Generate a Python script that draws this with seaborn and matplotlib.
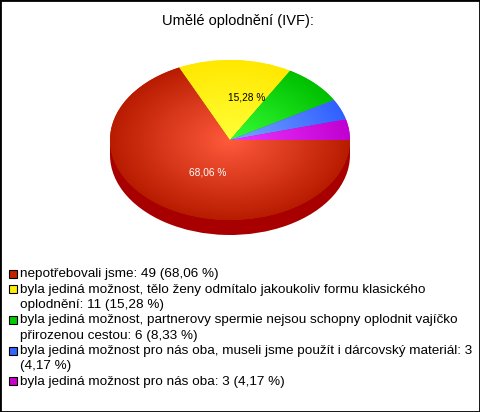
import matplotlib.pyplot as plt
import numpy as np
import seaborn as sns
from matplotlib.colors import LinearSegmentedColormap
from matplotlib.patches import Rectangle

title = "Umělé oplodnění (IVF):"
categories = [
    "nepotřebovali jsme",
    "byla jediná možnost, tělo ženy odmítalo jakoukoliv formu klasického\noplodnění",
    "byla jediná možnost, partnerovy spermie nejsou schopny oplodnit vajíčko\npřirozenou cestou",
    "byla jediná možnost pro nás oba, museli jsme použít i dárcovský materiál",
    "byla jediná možnost pro nás oba",
]
values = [49, 11, 6, 3, 3]
legend_colors = ["#c42200", "#ffee00", "#00cc00", "#3366ff", "#cc00cc"]
center_colors = ["#ff5a3c", "#ffff38", "#36ff36", "#7aa6ff", "#f036ff"]
edge_colors = ["#b81c00", "#ffe800", "#00c000", "#3060ff", "#c000d0"]
side_color = "#a80000"

W, H = 480, 412
CX, CY, RX, RY, DEPTH = 230, 140, 120, 80, 15

sns.set_theme(style="white")
plt.rcParams["font.family"] = ["Liberation Sans", "DejaVu Sans"]


def pct_text(v):
    return f"{v / sum(values) * 100:.2f}".replace(".", ",") + " %"


fig = plt.figure(figsize=(W / 100, H / 100), dpi=100, facecolor="white")
fig.add_artist(Rectangle((0, 0), 1, 1, transform=fig.transFigure, fill=False,
                         edgecolor="black", linewidth=2))

# axes box is the ellipse's bounding box, so the unit pie gets squashed
ax = fig.add_axes([(CX - RX) / W, 1 - (CY + RY) / H, 2 * RX / W, 2 * RY / H])
depth = DEPTH / RY

# side of the disc
ax.pie(values, colors=[side_color] * len(values), center=(0, -depth), radius=1,
       startangle=0, counterclock=False, frame=True, wedgeprops={"linewidth": 0})
ax.add_patch(Rectangle((-1, -depth), 2, depth, facecolor=side_color, linewidth=0))

wedges, _ = ax.pie(values, colors=legend_colors, radius=1, startangle=0,
                   counterclock=False, frame=True, wedgeprops={"linewidth": 0})

# radial shading for every slice
xx, yy = np.meshgrid(np.linspace(-1, 1, 500), np.linspace(-1, 1, 500))
rr = np.clip(np.hypot(xx, yy), 0, 1)
for wedge, c0, c1 in zip(wedges, center_colors, edge_colors):
    cmap = LinearSegmentedColormap.from_list("shade", [c0, c1])
    im = ax.imshow(rr, cmap=cmap, vmin=0, vmax=1, extent=(-1, 1, -1, 1),
                   origin="lower", interpolation="bilinear", aspect="auto", zorder=2)
    im.set_clip_path(wedge)

ax.set_xlim(-1, 1)
ax.set_ylim(-1, 1)
ax.set_aspect("auto")
ax.axis("off")

fig.text(238 / W, 1 - 21 / H, title, ha="center", va="center", fontsize=10.5, color="black")
fig.text(208 / W, 1 - 173 / H, pct_text(values[0]), ha="center", va="center",
         fontsize=7.3, color="white")
fig.text(247 / W, 1 - 98 / H, pct_text(values[1]), ha="center", va="center",
         fontsize=7.3, color="black")

labels = [f"{c}: {v} ({pct_text(v)})" for c, v in zip(categories, values)]
# this one wraps just before the percentage
labels[3] = f"{categories[3]}: {values[3]}\n({pct_text(values[3])})"

# legend drawn by hand: the swatch sits on the first line of a wrapped entry
y = 274.0
for label, color in zip(labels, legend_colors):
    fig.add_artist(Rectangle((9 / W, 1 - (y + 4) / H), 8 / W, 8 / H, transform=fig.transFigure,
                             facecolor=color, edgecolor="black", linewidth=0.8))
    for line in label.split("\n"):
        fig.text(20 / W, 1 - (y + 0.5) / H, line, ha="left", va="center", fontsize=9.7, color="black")
        y += 15.3

fig.savefig("out.png", dpi=100)
plt.close(fig)
